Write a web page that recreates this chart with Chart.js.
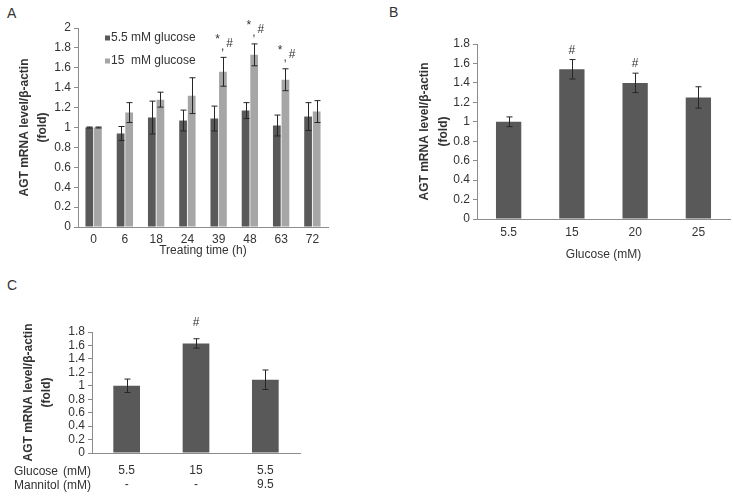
<!DOCTYPE html>
<html lang="en">
<head>
<meta charset="UTF-8">
<title>AGT mRNA level</title>
<script src="https://cdn.jsdelivr.net/npm/chart.js"></script>
<style>
  body { margin: 0; background: #fff; font-family: "Liberation Sans", Arial, sans-serif; color: #333; }
  #page { position: relative; width: 733px; height: 497px; overflow: hidden; }
  .box { position: absolute; }
  .letter { position: absolute; font-size: 14px; line-height: 14px; }
  .row { position: absolute; left: 14px; font-size: 12px; line-height: 14px; white-space: pre; }
  .row span { position: absolute; left: 49px; }
</style>
</head>
<body>
<div id="page">
  <div class="letter" style="left:7px;top:6px">A</div>
  <div class="letter" style="left:389px;top:5px">B</div>
  <div class="letter" style="left:7px;top:278px">C</div>

  <div class="box" style="left:0;top:0;width:345px;height:262px"><canvas id="chartA"></canvas></div>
  <div class="box" style="left:380px;top:0;width:353px;height:262px"><canvas id="chartB"></canvas></div>
  <div class="box" style="left:0;top:260px;width:330px;height:237px"><canvas id="chartC"></canvas></div>

  <div class="row" style="top:464px">Glucose<span>(mM)</span></div>
  <div class="row" style="top:478px">Mannitol<span>(mM)</span></div>
</div>
<script>
// panel A: time course
const timeLabels = ['0', '6', '18', '24', '39', '48', '63', '72'];
const lowGlucose = [1.0, 0.94, 1.10, 1.07, 1.09, 1.17, 1.02, 1.11];
const lowGlucoseErr = [0.005, 0.07, 0.165, 0.105, 0.125, 0.08, 0.105, 0.14];
const highGlucose = [1.0, 1.15, 1.28, 1.32, 1.56, 1.73, 1.48, 1.16];
const highGlucoseErr = [0.005, 0.10, 0.075, 0.18, 0.145, 0.11, 0.11, 0.11];
const starMarksA = ['', '', '', '', '*', '*', '*', ''];
const hashMarksA = ['', '', '', '', '#', '#', '#', ''];

// panel B: glucose dose
const glucoseLabels = ['5.5', '15', '20', '25'];
const doseValues = [1.0, 1.54, 1.40, 1.25];
const doseErr = [0.05, 0.10, 0.10, 0.11];
const hashMarksB = ['', '#', '#', ''];

// panel C: osmotic control
const glucoseC = ['5.5', '15', '5.5'];
const mannitolC = ['-', '-', '9.5'];
const osmoValues = [1.0, 1.63, 1.09];
const osmoErr = [0.10, 0.07, 0.145];
const hashMarksC = ['', '#', ''];

const yTitle = ['AGT mRNA level/\u03b2-actin', '(fold)'];

Chart.defaults.font.family = '"Liberation Sans", Arial, sans-serif';
Chart.defaults.font.size = 12;
Chart.defaults.color = '#333';
Chart.defaults.animation = false;

const axisGrey = '#8c8c8c';

// error bars from dataset.errors
const errorBars = {
    id: 'errorBars',
    afterDatasetsDraw(chart) {
        const ctx = chart.ctx;
        const y = chart.scales.y;
        ctx.save();
        ctx.strokeStyle = '#262626';
        ctx.lineWidth = 1;
        chart.data.datasets.forEach((ds, i) => {
            if (!ds.errors) return;
            chart.getDatasetMeta(i).data.forEach((bar, j) => {
                const top = y.getPixelForValue(ds.data[j] + ds.errors[j]);
                const bot = y.getPixelForValue(ds.data[j] - ds.errors[j]);
                const x = Math.round(bar.x) + 0.5;
                ctx.beginPath();
                ctx.moveTo(x, top); ctx.lineTo(x, bot);
                ctx.moveTo(x - 3, top); ctx.lineTo(x + 3, top);
                ctx.moveTo(x - 3, bot); ctx.lineTo(x + 3, bot);
                ctx.stroke();
            });
        });
        ctx.restore();
    }
};

// significance marks above the highest error bar of each category
const sigMarks = {
    id: 'sigMarks',
    afterDatasetsDraw(chart, args, opts) {
        if (!opts.rows) return;
        const ctx = chart.ctx;
        const xs = chart.scales.x, y = chart.scales.y;
        ctx.save();
        ctx.fillStyle = '#333';
        ctx.font = '12px "Liberation Sans", Arial, sans-serif';
        ctx.textAlign = 'center';
        ctx.textBaseline = 'middle';
        opts.rows.forEach(row => {
            row.text.forEach((t, i) => {
                if (!t) return;
                let top = Infinity;
                chart.data.datasets.forEach(ds => {
                    top = Math.min(top, y.getPixelForValue(ds.data[i] + ds.errors[i]));
                });
                ctx.fillText(t, xs.getPixelForValue(i) + row.dx, top + row.dy);
            });
        });
        ctx.restore();
    }
};

// legend drawn inside plot area (panel A)
const innerLegend = {
    id: 'innerLegend',
    afterDraw(chart, args, opts) {
        if (!opts.show) return;
        const ctx = chart.ctx;
        const a = chart.chartArea;
        ctx.save();
        ctx.font = '12px "Liberation Sans", Arial, sans-serif';
        ctx.textBaseline = 'middle';
        chart.data.datasets.forEach((ds, i) => {
            const cy = a.top + opts.top + i * opts.gap;
            ctx.fillStyle = ds.backgroundColor;
            ctx.fillRect(a.left + opts.left, cy - 2.5, 5, 5);
            ctx.fillStyle = '#333';
            ctx.fillText(ds.label, a.left + opts.left + 6, cy);
        });
        ctx.restore();
    }
};

function fmt(v) { return String(Math.round(v * 10) / 10); }

function yAxis(max, width, titlePad, lh) {
    return {
        min: 0, max: max,
        ticks: { stepSize: 0.2, callback: fmt, padding: 3, autoSkip: false, font: { size: 12, lineHeight: 1 } },
        grid: { drawOnChartArea: false, drawTicks: true, tickLength: 4, color: axisGrey },
        border: { display: true, color: axisGrey },
        title: {
            display: true, text: yTitle,
            font: { size: 12, weight: 'bold', lineHeight: lh },
            padding: { top: titlePad, bottom: 0 }
        },
        afterFit: s => { s.width = width; }
    };
}

function xAxis(height, pad, title, tickLh) {
    return {
        grid: { display: false, drawTicks: false },
        border: { display: true, color: axisGrey },
        ticks: { padding: pad, autoSkip: false, font: { size: 12, lineHeight: tickLh } },
        title: title
            ? { display: true, text: title, font: { size: 12, lineHeight: 1.2 }, padding: { top: 0, bottom: 0 } }
            : { display: false },
        afterFit: s => { s.height = height; }
    };
}

new Chart(document.getElementById('chartA'), {
    type: 'bar',
    data: {
        labels: timeLabels,
        datasets: [
            { label: '5.5 mM glucose', data: lowGlucose, errors: lowGlucoseErr, backgroundColor: '#595959',
              barPercentage: 0.9, categoryPercentage: 0.55 },
            { label: '15  mM glucose', data: highGlucose, errors: highGlucoseErr, backgroundColor: '#a6a6a6',
              barPercentage: 0.9, categoryPercentage: 0.55 }
        ]
    },
    options: {
        responsive: true, maintainAspectRatio: false,
        layout: { padding: { top: 28, left: 0, right: 17, bottom: 0 } },
        scales: {
            x: Object.assign(xAxis(35, 5, null, 1.2), {
                title: { display: true, text: 'Treating time (h)', font: { size: 12, lineHeight: 1.2 }, padding: { top: 0, bottom: 4 } }
            }),
            y: yAxis(2, 78, 16, 1.5)
        },
        plugins: {
            legend: { display: false }, tooltip: { enabled: false },
            innerLegend: { show: true, left: 27, top: 10, gap: 23 },
            sigMarks: { rows: [
                { text: starMarksA, dx: -1, dy: -18 },
                { text: starMarksA.map(s => s ? ',' : ''), dx: 4, dy: -11 },
                { text: hashMarksA, dx: 11, dy: -14 }
            ] }
        }
    },
    plugins: [errorBars, sigMarks, innerLegend]
});

new Chart(document.getElementById('chartB'), {
    type: 'bar',
    data: {
        labels: glucoseLabels,
        datasets: [
            { label: 'AGT', data: doseValues, errors: doseErr, backgroundColor: '#595959',
              barPercentage: 0.4, categoryPercentage: 1 }
        ]
    },
    options: {
        responsive: true, maintainAspectRatio: false,
        layout: { padding: { top: 44, left: 0, right: 3, bottom: 0 } },
        scales: {
            x: xAxis(43, 6, 'Glucose (mM)', 1.2),
            y: yAxis(1.8, 97, 35, 1.6)
        },
        plugins: {
            legend: { display: false }, tooltip: { enabled: false },
            sigMarks: { rows: [{ text: hashMarksB, dx: 0, dy: -9 }] }
        }
    },
    plugins: [errorBars, sigMarks]
});

new Chart(document.getElementById('chartC'), {
    type: 'bar',
    data: {
        labels: glucoseC.map((g, i) => [g, mannitolC[i]]),
        datasets: [
            { label: 'AGT', data: osmoValues, errors: osmoErr, backgroundColor: '#595959',
              barPercentage: 0.385, categoryPercentage: 1 }
        ]
    },
    options: {
        responsive: true, maintainAspectRatio: false,
        layout: { padding: { top: 72, left: 0, right: 30, bottom: 0 } },
        scales: {
            x: xAxis(44, 11, null, 1.1667),
            y: yAxis(1.8, 92, 20, 1.5)
        },
        plugins: {
            legend: { display: false }, tooltip: { enabled: false },
            sigMarks: { rows: [{ text: hashMarksC, dx: 0, dy: -16 }] }
        }
    },
    plugins: [errorBars, sigMarks]
});
</script>
</body>
</html>
